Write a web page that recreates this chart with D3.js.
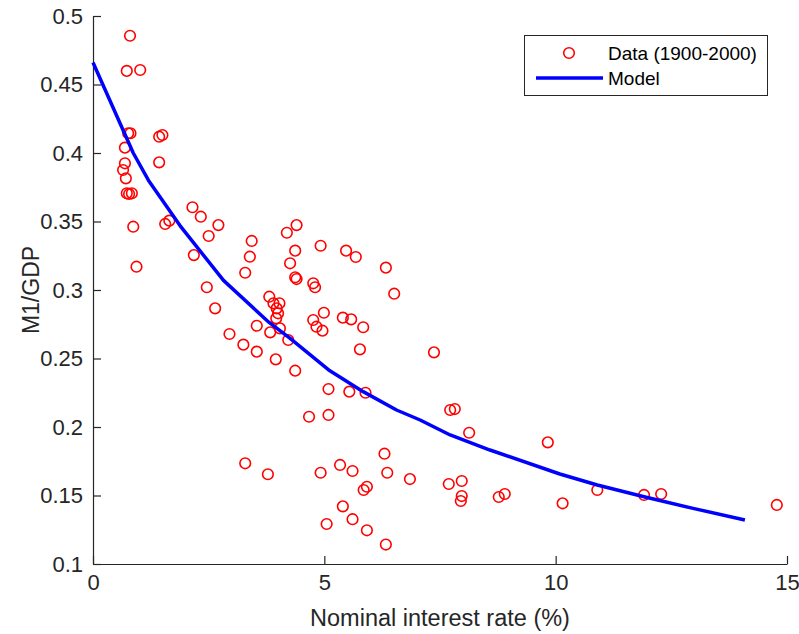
<!DOCTYPE html>
<html>
<head>
<meta charset="utf-8">
<script src="https://cdn.jsdelivr.net/npm/d3@7"></script>
<style>
  html, body { margin: 0; padding: 0; background: #fff; }
  svg { display: block; font-family: "Liberation Sans", Arial, Helvetica, sans-serif; }
</style>
</head>
<body>
<svg id="chart" width="799" height="634"></svg>
<script>
// ---- Data ----
const dataRate = [0.80,0.73,1.02,0.76,0.81,1.43,1.50,0.69,1.43,0.69,0.65,0.71,0.73,0.78,0.84,0.87,0.94,1.56,1.65,2.15,
  2.33,2.71,2.50,2.18,2.46,2.64,2.95,3.43,3.39,3.29,3.25,3.54,3.54,3.95,4.37,3.81,3.90,4.03,3.97,4.00,
  3.96,3.83,4.04,4.22,4.37,4.40,4.76,4.80,4.40,4.19,4.37,4.26,4.92,5.47,5.68,6.33,6.51,4.99,5.40,5.58,
  4.76,4.83,4.96,5.84,5.77,7.37,5.09,5.54,5.89,4.67,5.09,7.72,7.82,8.13,9.83,3.29,3.78,4.92,5.34,5.61,
  6.30,6.36,6.85,5.92,5.85,5.40,5.61,5.05,5.92,6.33,7.69,7.97,7.97,7.95,8.77,8.90,10.15,10.90,11.91,12.28,14.78];
const dataRatio = [0.4856,0.4599,0.4606,0.4144,0.4144,0.4119,0.4131,0.4039,0.3932,0.3925,0.3876,0.3815,0.3706,0.3701,0.3706,0.3462,0.3170,0.3482,0.3506,0.3604,
  0.3535,0.3474,0.3394,0.3255,0.3020,0.2866,0.2679,0.3358,0.3243,0.3126,0.2601,0.2739,0.2550,0.2494,0.2411,0.2951,0.2903,0.2903,0.2866,0.2830,
  0.2793,0.2691,0.2720,0.2635,0.3093,0.3080,0.3049,0.3020,0.3474,0.3418,0.3287,0.3195,0.3323,0.3287,0.3241,0.3163,0.2973,0.2834,0.2798,0.2786,
  0.2781,0.2732,0.2703,0.2728,0.2567,0.2545,0.2277,0.2258,0.2250,0.2075,0.2088,0.2124,0.2131,0.1958,0.1888,0.1735,0.1655,0.1666,0.1723,0.1679,
  0.1805,0.1666,0.1620,0.1564,0.1540,0.1421,0.1327,0.1292,0.1246,0.1142,0.1584,0.1606,0.1496,0.1460,0.1489,0.1511,0.1443,0.1540,0.1504,0.1511,0.1431];

const modelRate  = [0, 0.87, 1.2, 1.88, 2.82, 3.8, 4.26, 5.12, 5.84, 6.56, 7.07, 7.72, 8.58, 10.09, 10.9, 11.91, 12.97, 14.09];
const modelRatio = [0.466, 0.400, 0.380, 0.347, 0.307, 0.2765, 0.2647, 0.2410, 0.2258, 0.2124, 0.2051, 0.1942, 0.1832, 0.1657, 0.1577, 0.1491, 0.1406, 0.1321];

const xTicks = [0, 5, 10, 15];
const xTickLabels = ["0", "5", "10", "15"];
const yTicks = [0.1, 0.15, 0.2, 0.25, 0.3, 0.35, 0.4, 0.45, 0.5];
const yTickLabels = ["0.1", "0.15", "0.2", "0.25", "0.3", "0.35", "0.4", "0.45", "0.5"];

const xLabel = "Nominal interest rate (%)";
const yLabel = "M1/GDP";
const legendLabels = ["Data (1900-2000)", "Model"];

// ---- Layout ----
const svg = d3.select("#chart");
const plotLeft = 93, plotRight = 787, plotTop = 16, plotBottom = 564;
const axisColor = "#262626";

const x = d3.scaleLinear().domain([0, 15]).range([plotLeft, plotRight]);
const y = d3.scaleLinear().domain([0.1, 0.5]).range([plotBottom, plotTop]);

// Axes (inward ticks, MATLAB style)
const xAxis = d3.axisBottom(x).tickValues(xTicks)
  .tickFormat((d, i) => xTickLabels[i]).tickSizeInner(-8).tickSizeOuter(0).tickPadding(10);
const yAxis = d3.axisLeft(y).tickValues(yTicks)
  .tickFormat((d, i) => yTickLabels[i]).tickSizeInner(-8).tickSizeOuter(0).tickPadding(10);

const gx = svg.append("g").attr("transform", `translate(0,${plotBottom})`).call(xAxis);
const gy = svg.append("g").attr("transform", `translate(${plotLeft},0)`).call(yAxis);
[gx, gy].forEach(g => {
  g.select(".domain").attr("stroke", axisColor).attr("stroke-width", 1.2);
  g.selectAll(".tick line").attr("stroke", axisColor).attr("stroke-width", 1.2);
  g.selectAll(".tick text").attr("fill", axisColor).style("font-size", "22px")
    .style("font-family", "'Liberation Sans', Arial, Helvetica, sans-serif");
});

// Axis labels
svg.append("text").attr("x", 440).attr("y", 626).attr("text-anchor", "middle")
  .attr("fill", axisColor).style("font-size", "23.5px").text(xLabel);
svg.append("text").attr("transform", "translate(39,290) rotate(-90)").attr("text-anchor", "middle")
  .attr("fill", axisColor).style("font-size", "23px").text(yLabel);

// Data points
const points = dataRate.map((r, i) => ({ r, v: dataRatio[i] }));
svg.append("g").selectAll("circle").data(points).join("circle")
  .attr("cx", d => x(d.r)).attr("cy", d => y(d.v)).attr("r", 5.3)
  .attr("fill", "none").attr("stroke", "#ff0000").attr("stroke-width", 1.6);

// Model line
const model = modelRate.map((r, i) => ({ r, v: modelRatio[i] }));
svg.append("path").datum(model)
  .attr("d", d3.line().x(d => x(d.r)).y(d => y(d.v)))
  .attr("fill", "none").attr("stroke", "#0000ff").attr("stroke-width", 3.5)
  .attr("stroke-linejoin", "round");

// Legend
const lg = svg.append("g");
lg.append("rect").attr("x", 524.5).attr("y", 35.5).attr("width", 243).attr("height", 60)
  .attr("fill", "#fff").attr("stroke", axisColor).attr("stroke-width", 1);
lg.append("circle").attr("cx", 569).attr("cy", 53).attr("r", 5.3)
  .attr("fill", "none").attr("stroke", "#ff0000").attr("stroke-width", 1.6);
lg.append("line").attr("x1", 536).attr("x2", 603).attr("y1", 78).attr("y2", 78)
  .attr("stroke", "#0000ff").attr("stroke-width", 3.5);
lg.selectAll("text").data(legendLabels).join("text")
  .attr("x", 608).attr("y", (d, i) => i === 0 ? 53 : 78).attr("dy", "0.35em")
  .attr("fill", "#000").style("font-size", "19px").text(d => d);
</script>
</body>
</html>
